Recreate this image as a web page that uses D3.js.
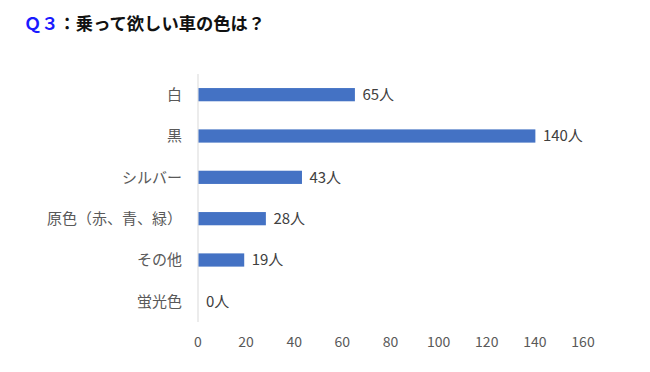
<!DOCTYPE html>
<html>
<head>
<meta charset="utf-8">
<script src="https://cdn.jsdelivr.net/npm/d3@7/dist/d3.min.js"></script>
<style>
  html, body { margin: 0; padding: 0; background: #fff; }
  svg text { font-family: "Noto Sans CJK JP", "Noto Sans", sans-serif; }
</style>
</head>
<body>
<div id="chart"></div>
<script>
// data
var categories = ['白', '黒', 'シルバー', '原色（赤、青、緑）', 'その他', '蛍光色'];
var counts     = [65, 140, 43, 28, 19, 0];
var xTicks     = [0, 20, 40, 60, 80, 100, 120, 140, 160];
var unitSuffix = '人';

var width = 650, height = 372;

var svg = d3.select('#chart').append('svg')
    .attr('width', width).attr('height', height);

// title: blue "Ｑ３" then black question
var title = svg.append('text')
    .attr('x', 24).attr('y', 30)
    .attr('font-size', 17.3).attr('font-weight', 'bold');
title.append('tspan').attr('fill', '#1a1aff').text('Ｑ３');
title.append('tspan').attr('fill', '#111').text('：乗って欲しい車の色は？');

var x = d3.scaleLinear().domain([0, 160]).range([198, 583]);
var y = d3.scaleBand().domain(categories).range([74, 322]).paddingInner(0.68).paddingOuter(0.34);

// axis line
svg.append('line')
    .attr('x1', x(0)).attr('x2', x(0))
    .attr('y1', 74).attr('y2', 322)
    .attr('stroke', '#d9d9d9').attr('stroke-width', 1);

// x tick labels
svg.selectAll('text.xtick').data(xTicks).enter().append('text')
    .attr('class', 'xtick')
    .attr('x', function (d) { return x(d); })
    .attr('y', 342)
    .attr('dy', '0.35em')
    .attr('text-anchor', 'middle')
    .attr('font-size', 14)
    .attr('fill', '#595959')
    .text(function (d) { return d; });

// category labels
svg.selectAll('text.cat').data(categories).enter().append('text')
    .attr('class', 'cat')
    .attr('x', 182)
    .attr('y', function (d) { return y(d) + y.bandwidth() / 2; })
    .attr('dy', '0.35em')
    .attr('text-anchor', 'end')
    .attr('font-size', 15)
    .attr('fill', '#595959')
    .text(function (d) { return d; });

// bars
svg.selectAll('rect.bar').data(counts).enter().append('rect')
    .attr('class', 'bar')
    .attr('x', x(0) + 0.5)
    .attr('y', function (d, i) { return y(categories[i]); })
    .attr('width', function (d) { return Math.max(0, x(d) - x(0)); })
    .attr('height', y.bandwidth())
    .attr('fill', '#4472c4');

// value labels
svg.selectAll('text.val').data(counts).enter().append('text')
    .attr('class', 'val')
    .attr('x', function (d) { return x(d) + 8; })
    .attr('y', function (d, i) { return y(categories[i]) + y.bandwidth() / 2; })
    .attr('dy', '0.35em')
    .attr('font-size', 15)
    .attr('fill', '#404040')
    .text(function (d) { return d + unitSuffix; });
</script>
</body>
</html>
